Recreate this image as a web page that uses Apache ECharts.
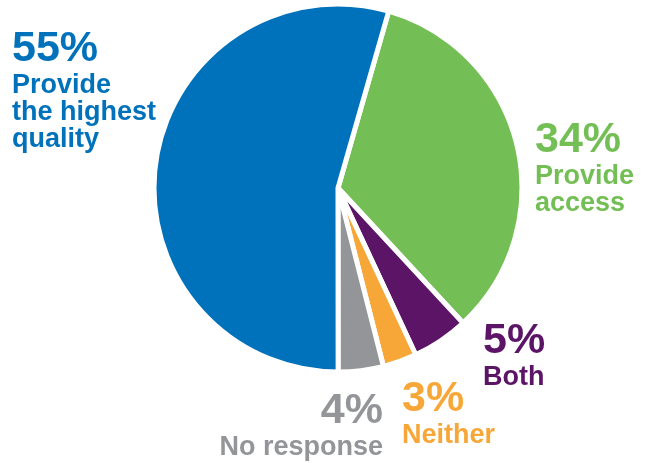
<!DOCTYPE html>
<html>
<head>
<meta charset="utf-8">
<script src="https://cdn.jsdelivr.net/npm/echarts@6/dist/echarts.min.js"></script>
<style>
  html, body { margin: 0; padding: 0; background: #fff; }
  #chart { width: 650px; height: 463px; }
</style>
</head>
<body>
<div id="chart"></div>
<script>
// clockwise from the top-right: access, both, neither, no response, quality
const categories = ['Provide access', 'Both', 'Neither', 'No response', 'Provide the highest quality'];
const labelLines = [['Provide', 'access'], ['Both'], ['Neither'], ['No response'], ['Provide', 'the highest', 'quality']];
const percents = [34, 5, 3, 4, 55];

const colors = ['#74bf55', '#5b1466', '#f7a738', '#939598', '#0071bb'];
// label anchor (top of block) and alignment for each slice
const labelPos = [
  { x: 535, y: 117, align: 'left' },
  { x: 483, y: 318, align: 'left' },
  { x: 402, y: 376, align: 'left' },
  { x: 383, y: 388, align: 'right' },
  { x: 12, y: 26, align: 'left' },
];

const font = '"Liberation Sans", Arial, Helvetica, sans-serif';

const chart = echarts.init(document.getElementById('chart'), null, { renderer: 'canvas' });

const data = categories.map((name, i) => ({
  name,
  value: percents[i],
  itemStyle: { color: colors[i] },
  label: {
    color: colors[i],
    align: labelPos[i].align,
    formatter: () =>
      ['{p|' + percents[i] + '%}'].concat(labelLines[i].map((l) => '{n|' + l + '}')).join('\n'),
    rich: {
      p: { fontSize: 43, fontWeight: 'bold', lineHeight: 46, fontFamily: font, color: colors[i], align: labelPos[i].align },
      n: { fontSize: 27, fontWeight: 'bold', lineHeight: 27, fontFamily: font, color: colors[i], align: labelPos[i].align },
    },
  },
}));

chart.setOption({
  backgroundColor: '#fff',
  animation: false,
  series: [
    {
      type: 'pie',
      center: [338, 188],
      radius: 184,
      startAngle: 74,
      clockwise: true,
      avoidLabelOverlap: false,
      itemStyle: { borderColor: '#fff', borderWidth: 5 },
      label: { show: true, position: 'outside' },
      labelLine: { show: false },
      labelLayout: (params) => {
        const p = labelPos[params.dataIndex];
        return { x: p.x, y: p.y, align: p.align, verticalAlign: 'top' };
      },
      emphasis: { disabled: true },
      data,
    },
  ],
});
</script>
</body>
</html>
